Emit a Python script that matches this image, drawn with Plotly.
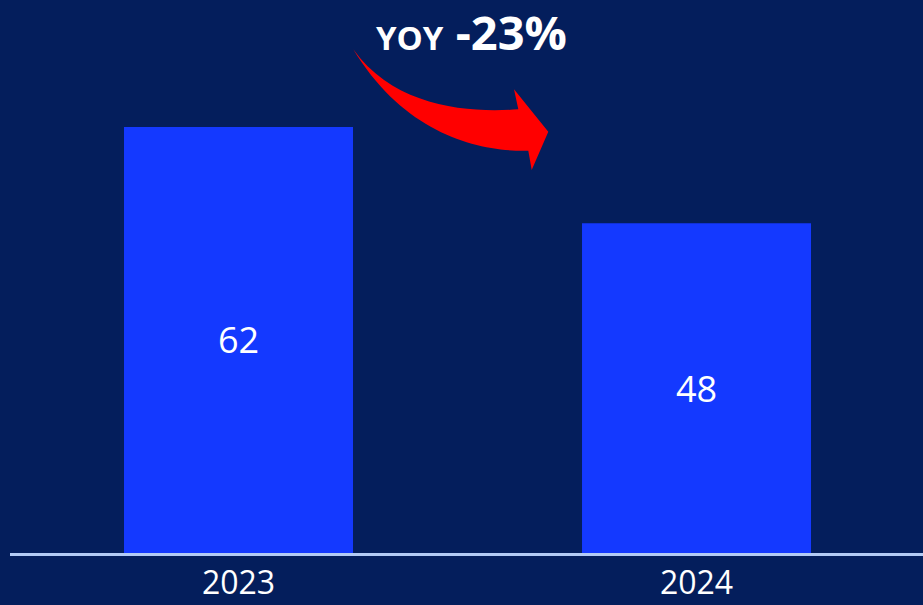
import plotly.graph_objects as go

# Yearly totals
years = ["2023", "2024"]
values = [62, 48]
change_label = "-23%"

BG = "#041E5C"
BAR = "#1439FF"
AXIS = "#B3CBF5"
ARROW = "#FF0000"

W, H = 923, 605
ML, MR, MT, MB = 10, 0, 0, 52
PW, PH = W - ML - MR, H - MT - MB


def to_paper(px, py):
    return (px - ML) / PW, (H - MB - py) / PH


def path_from(cmds):
    parts = []
    for op, pts in cmds:
        coords = " ".join("%.5f,%.5f" % to_paper(x, y) for x, y in pts)
        parts.append(op + " " + coords if coords else op)
    return " ".join(parts)


# Curved "decline" arrow outline (page pixels)
arrow_cmds = [
    ("M", [(353.3, 49.3)]),
    ("C", [(395, 108), (470, 113), (518.3, 109.3)]),
    ("L", [(514.0, 89.3)]),
    ("L", [(548.3, 131.7)]),
    ("L", [(531.7, 170.0)]),
    ("L", [(528.3, 150.7)]),
    ("C", [(480, 152), (405, 135), (353.3, 49.3)]),
    ("Z", []),
]

fig = go.Figure(
    go.Bar(
        x=years,
        y=values,
        width=0.5,
        marker=dict(color=BAR, line=dict(width=0)),
        text=[str(v) for v in values],
        textposition="inside",
        insidetextanchor="middle",
        textangle=0,
        textfont=dict(family="Open Sans", size=36, color="white"),
        hoverinfo="skip",
    )
)

fig.add_shape(
    type="path",
    xref="paper",
    yref="paper",
    path=path_from(arrow_cmds),
    fillcolor=ARROW,
    line=dict(width=0),
    layer="above",
)

ax, ay = to_paper(472, 32)
fig.add_annotation(
    xref="paper",
    yref="paper",
    x=ax,
    y=ay,
    xanchor="center",
    yanchor="middle",
    showarrow=False,
    text="<b><span style='font-size:33px'>YOY</span> " + change_label + "</b>",
    font=dict(family="Open Sans", size=47, color="white"),
)

fig.update_layout(
    width=W,
    height=H,
    margin=dict(l=ML, r=MR, t=MT, b=MB, pad=0, autoexpand=False),
    paper_bgcolor=BG,
    plot_bgcolor=BG,
    showlegend=False,
    bargap=0.5,
    xaxis=dict(
        range=[-0.4989, 1.4945],
        automargin=False,
        showgrid=False,
        zeroline=False,
        showline=True,
        linecolor=AXIS,
        linewidth=2.5,
        ticks="",
        tickfont=dict(family="Open Sans", size=32, color="white"),
        fixedrange=True,
    ),
    yaxis=dict(
        range=[0, 80.48],
        visible=False,
        automargin=False,
        showgrid=False,
        zeroline=False,
        fixedrange=True,
    ),
)

fig.write_html("out.html")
